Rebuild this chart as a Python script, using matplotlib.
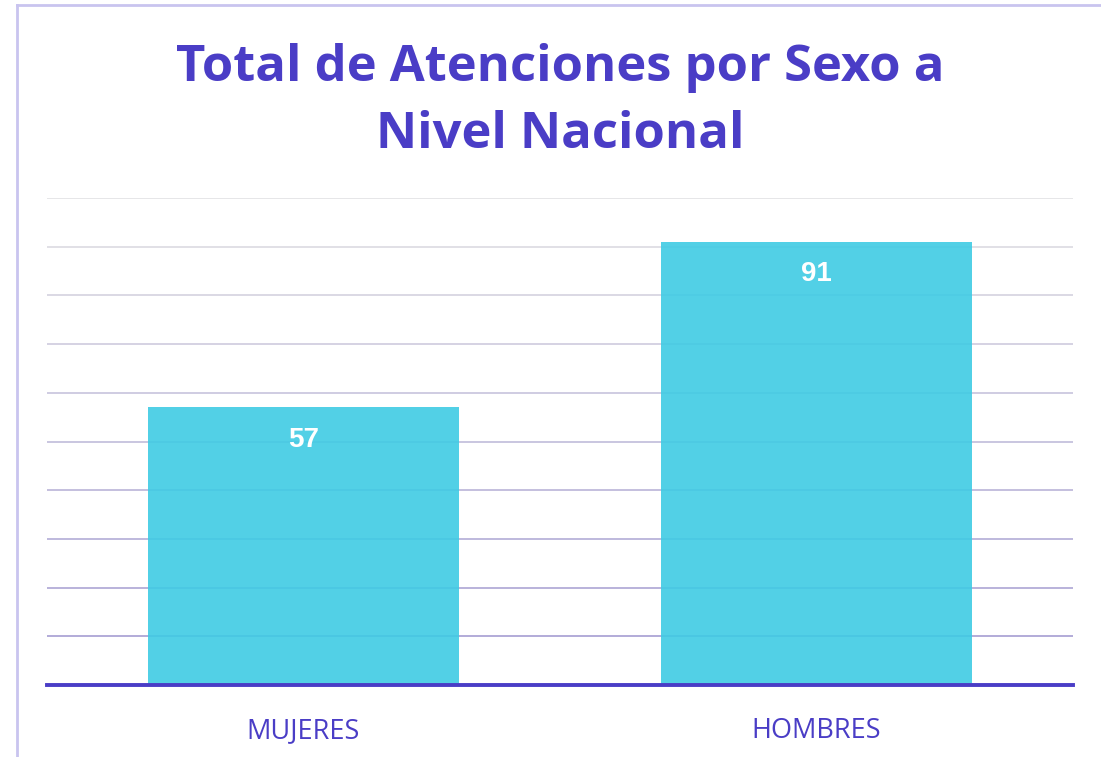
import numpy as np
import matplotlib
matplotlib.use("Agg")
import matplotlib.pyplot as plt
from matplotlib.lines import Line2D
from matplotlib.colors import to_rgb

categories = ["MUJERES", "HOMBRES"]
values = [57, 91]
title = "Total de Atenciones por Sexo a\nNivel Nacional"

purple = "#4a3dc6"
bar_color = "#3fcbe4"

fig = plt.figure(figsize=(11.01, 7.57), dpi=100)
ax = fig.add_axes([0.0427, 0.0951, 0.9319, 0.6433])

x = np.arange(len(categories))
ax.bar(x, values, width=0.606, color=bar_color, alpha=0.9, zorder=3)

# gridlines fading from grey (top) to lavender (bottom)
top_c = np.array(to_rgb("#e4e4e6"))
bot_c = np.array(to_rgb("#ada5d6"))
for yv in range(10, 101, 10):
    t = (yv - 10) / 90
    c = bot_c * (1 - t) + top_c * t
    ax.axhline(yv, color=c, lw=1.3, zorder=1)
ax.axhline(0, color=purple, lw=2.8, zorder=4, clip_on=False)

for xi, v in zip(x, values):
    ax.text(xi, v - 6.6, str(v), ha="center", va="center", color="white",
            fontsize=20, fontweight="bold", family="Liberation Sans", zorder=5)

ax.set_xlim(-0.5, 1.5)
ax.set_ylim(0, 100)
ax.set_xticks(x)
ax.set_xticklabels(categories, fontsize=19.5, color=purple, family="Open Sans")
ax.tick_params(axis="x", length=0, pad=23)
ax.set_yticks([])
for s in ax.spines.values():
    s.set_visible(False)

fig.text(0.509, 0.866, title, ha="center", va="center", fontsize=36.5,
         fontweight="bold", color=purple, family="Open Sans", linespacing=1.45)

# card border (left and top)
fig.add_artist(Line2D([17 / 1101, 17 / 1101], [0, 1 - 5 / 757],
                      transform=fig.transFigure, color="#c9c4ef", lw=2))
fig.add_artist(Line2D([17 / 1101, 1], [1 - 5 / 757, 1 - 5 / 757],
                      transform=fig.transFigure, color="#c9c4ef", lw=2))

fig.savefig("out.png", dpi=100)
